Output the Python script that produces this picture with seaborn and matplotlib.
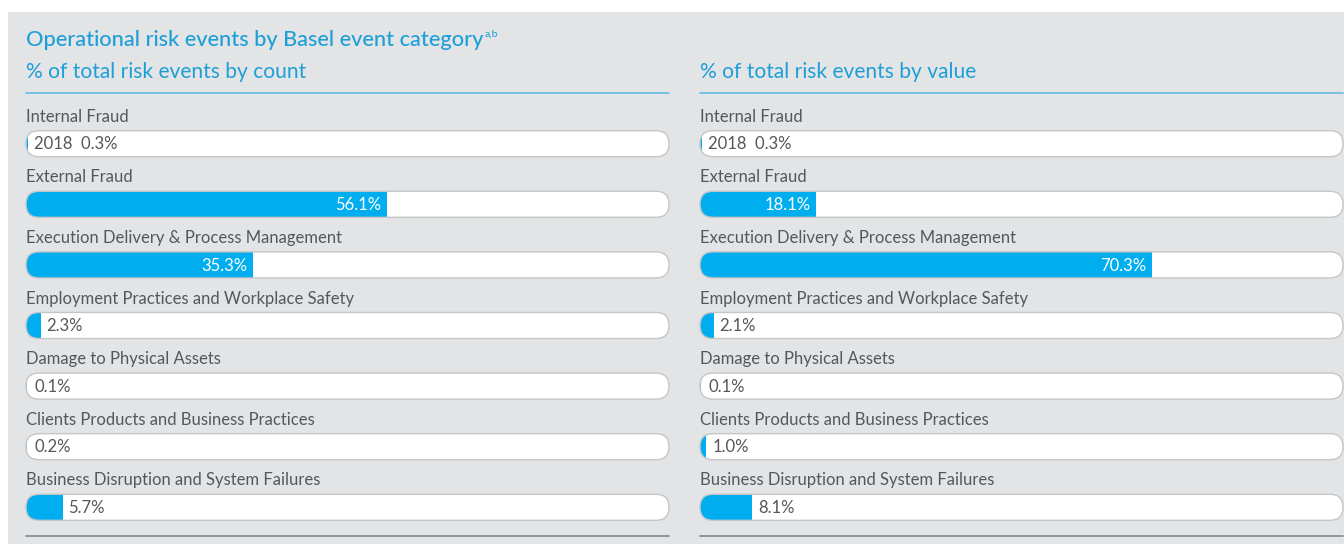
import matplotlib
matplotlib.use("Agg")
import matplotlib.pyplot as plt
import seaborn as sns
import pandas as pd
from matplotlib.patches import FancyBboxPatch, Rectangle
from matplotlib.lines import Line2D

# ---------------- data ----------------
title = "Operational risk events by Basel event category"
title_sup = "a,b"
panel_titles = ["% of total risk events by count", "% of total risk events by value"]
categories = [
    "Internal Fraud",
    "External Fraud",
    "Execution Delivery & Process Management",
    "Employment Practices and Workplace Safety",
    "Damage to Physical Assets",
    "Clients Products and Business Practices",
    "Business Disruption and System Failures",
]
count_pct = [0.3, 56.1, 35.3, 2.3, 0.1, 0.2, 5.7]
value_pct = [0.3, 18.1, 70.3, 2.1, 0.1, 1.0, 8.1]
year_label = "2018"

# ---------------- style ----------------
sns.set_theme(style="white")
plt.rcParams['font.family'] = ['Lato', 'DejaVu Sans']

W, H = 1344, 544
BLUE = "#00aeef"
TITLE_BLUE = "#1e9fd8"
GREY_TXT = "#555759"
BG = "#e2e4e6"

fig = plt.figure(figsize=(W / 100, H / 100), dpi=100)
fig.patch.set_facecolor("white")
fig.patches.append(Rectangle((8 / W, 0), (W - 8) / W, (H - 12) / H,
                             transform=fig.transFigure, facecolor=BG,
                             edgecolor="none", zorder=-10))

def fx(px):
    return px / W

def fy(py):
    return 1 - py / H

title_txt = fig.text(fx(26), fy(40), title, fontsize=15.7, color=TITLE_BLUE,
                     va="center", ha="left", fontweight="medium")

panels_x = [26, 700]
track_w_px = 643
row_px = 60.6
nrows = len(categories)
axes_top_px = 143.7 - row_px / 2
axes_h_px = row_px * nrows
bar_h = 0.43

for k, (x0, vals, ptitle) in enumerate(zip(panels_x, [count_pct, value_pct], panel_titles)):
    ax = fig.add_axes([fx(x0), fy(axes_top_px + axes_h_px), fx(track_w_px), axes_h_px / H])
    ax.set_zorder(1)
    ax.set_facecolor("none")
    df = pd.DataFrame({"category": categories, "pct": vals})
    sns.barplot(data=df, x="pct", y="category", orient="h", color=BLUE,
                saturation=1, width=bar_h, ax=ax, zorder=2)
    bars = list(ax.patches)
    ax.set_xlim(0, 100)
    ax.set_ylim(nrows - 0.5, -0.5)
    ax.axis("off")

    xu = 100 / track_w_px
    yu = nrows / axes_h_px
    aspect = yu / xu
    r_x = (bar_h / 2) / aspect

    for i, (cat, v, bar) in enumerate(zip(categories, vals, bars)):
        bar.set_edgecolor("none")
        track_bg = FancyBboxPatch((0, i - bar_h / 2), 100, bar_h,
                                  boxstyle=f"round,pad=0,rounding_size={r_x}",
                                  mutation_aspect=aspect, facecolor="white",
                                  edgecolor="none", zorder=1, clip_on=False)
        ax.add_patch(track_bg)
        bar.set_clip_path(track_bg)
        track_edge = FancyBboxPatch((0, i - bar_h / 2), 100, bar_h,
                                    boxstyle=f"round,pad=0,rounding_size={r_x}",
                                    mutation_aspect=aspect, facecolor="none",
                                    edgecolor="#c4c6c8", lw=1.0, zorder=3,
                                    clip_on=False)
        ax.add_patch(track_edge)
        ax.text(0, i - 0.445, cat, fontsize=12, color=GREY_TXT, va="center",
                ha="left", clip_on=False)
        lab = f"{v:.1f}%"
        if i == 0:
            lab = f"{year_label}  {lab}"
        if v >= 10:
            ax.text(v - 0.9, i + 0.01, lab, fontsize=12, color="white",
                    va="center", ha="right", zorder=4)
        else:
            ax.text(max(v + 0.9, 1.3), i + 0.01, lab, fontsize=12,
                    color=GREY_TXT, va="center", ha="left", zorder=4)

    fig.text(fx(x0), fy(72), ptitle, fontsize=15.1, color=TITLE_BLUE,
             va="center", ha="left", fontweight="normal")
    fig.add_artist(Line2D([fx(x0), fx(x0 + track_w_px)], [fy(93), fy(93)],
                          transform=fig.transFigure, color="#6dbde4", lw=1.3))
    fig.add_artist(Line2D([fx(x0), fx(x0 + track_w_px)], [fy(536), fy(536)],
                          transform=fig.transFigure, color="#8c8f92", lw=1.3))
    if k == 0:
        ax.annotate(title_sup, xy=(1.0, 0.8), xycoords=title_txt,
                    xytext=(1, 0), textcoords="offset points",
                    fontsize=7.5, color=TITLE_BLUE, va="center", ha="left",
                    annotation_clip=False)

fig.savefig("out.png", dpi=100, facecolor="white")
